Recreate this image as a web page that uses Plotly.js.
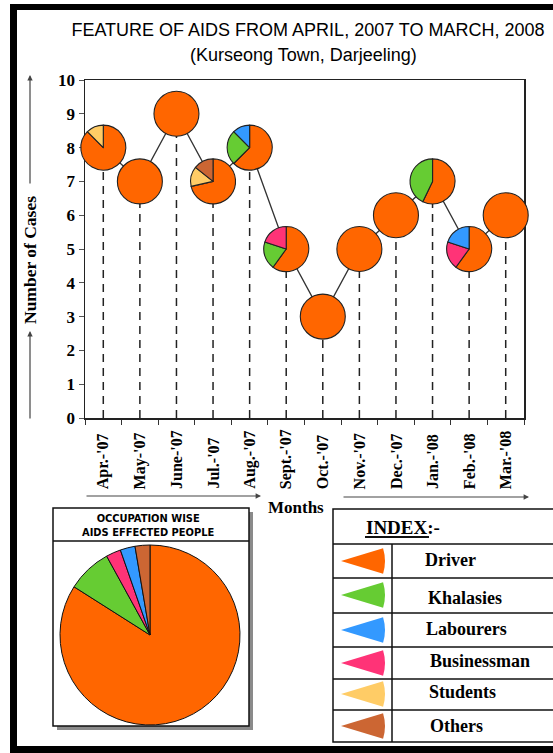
<!DOCTYPE html>
<html>
<head>
<meta charset="utf-8">
<script src="https://cdn.plot.ly/plotly-3.0.1.min.js"></script>
<style>
  html, body { margin: 0; padding: 0; background: #fff; }
  #chart { width: 553px; height: 753px; }
</style>
</head>
<body>
<div id="chart"></div>
<script>
// Monthly AIDS cases in Kurseong Town, April 2007 – March 2008
const months = ["Apr.-'07", "May-'07", "June-'07", "Jul.-'07", "Aug.-'07", "Sept.-'07",
                "Oct.-'07", "Nov.-'07", "Dec.-'07", "Jan.-'08", "Feb.-'08", "Mar.-'08"];
const totalCases = [8, 7, 9, 7, 8, 5, 3, 5, 6, 7, 5, 6];

// Occupation split of each month (slice order, clockwise from 12 o'clock)
const occupations = ['Driver', 'Khalasies', 'Businessman', 'Labourers', 'Students', 'Others'];
const driver      = [7, 7, 9, 5, 5, 3, 3, 5, 6, 4, 3, 6];
const khalasies   = [0, 0, 0, 0, 2, 1, 0, 0, 0, 3, 0, 0];
const businessman = [0, 0, 0, 0, 0, 1, 0, 0, 0, 0, 1, 0];
const labourers   = [0, 0, 0, 0, 1, 0, 0, 0, 0, 0, 1, 0];
const students    = [1, 0, 0, 1, 0, 0, 0, 0, 0, 0, 0, 0];
const others      = [0, 0, 0, 1, 0, 0, 0, 0, 0, 0, 0, 0];

// Occupation-wise summary pie (same slice order)
const overallCases = [63, 6, 2, 2, 0, 2];

const sliceColors = ['#FF6600', '#66CC33', '#FF3377', '#3399FF', '#FFCC66', '#CC6633'];
const indexLabels = ['Driver', 'Khalasies', 'Labourers', 'Businessman', 'Students', 'Others'];

// ---- page geometry (pixels) ----
const W = 553, H = 753;
const box = { left: 85, right: 524, top: 80, bottom: 418 };
const xRange = [-0.5, 11.5], yRange = [0, 10];
const xDomain = [box.left / W, box.right / W];
const yDomain = [1 - box.bottom / H, 1 - box.top / H];
const fx = px => px / W;
const fy = py => 1 - py / H;

// map a (category index, value) pair onto paper coordinates of the main axes
function toPaper(i, v) {
  return {
    x: xDomain[0] + (i - xRange[0]) / (xRange[1] - xRange[0]) * (xDomain[1] - xDomain[0]),
    y: yDomain[0] + (v - yRange[0]) / (yRange[1] - yRange[0]) * (yDomain[1] - yDomain[0])
  };
}

const serifBold = { family: 'Liberation Serif, Times New Roman, serif', weight: 'bold', color: '#000' };

const traces = [];

// dashed drop lines from the axis up to each monthly point
const dropX = [], dropY = [];
months.forEach((m, i) => { dropX.push(m, m, null); dropY.push(0, totalCases[i], null); });
traces.push({
  type: 'scatter', mode: 'lines', x: dropX, y: dropY,
  line: { color: '#222', width: 1.5, dash: '8px,6px' },
  hoverinfo: 'skip', showlegend: false, connectgaps: false
});

// trend line joining the months
traces.push({
  type: 'scatter', mode: 'lines', x: months, y: totalCases,
  line: { color: '#333', width: 1.3 },
  hoverinfo: 'skip', showlegend: false
});

// one small pie per month, centred on its point
const pieR = 22.5;
const series = [driver, khalasies, businessman, labourers, students, others];
months.forEach((m, i) => {
  const c = toPaper(i, totalCases[i]);
  const labels = [], values = [], colors = [];
  series.forEach((s, k) => {
    if (s[i] > 0) { labels.push(occupations[k]); values.push(s[i]); colors.push(sliceColors[k]); }
  });
  traces.push({
    type: 'pie', labels, values, sort: false, direction: 'clockwise',
    marker: { colors, line: { color: '#222', width: 1.1 } },
    textinfo: 'none', hoverinfo: 'none', showlegend: false,
    domain: { x: [c.x - pieR / W, c.x + pieR / W], y: [c.y - pieR / H, c.y + pieR / H] }
  });
});

// summary pie
{
  const labels = [], values = [], colors = [];
  overallCases.forEach((v, k) => {
    if (v > 0) { labels.push(occupations[k]); values.push(v); colors.push(sliceColors[k]); }
  });
  const cx = 150, cy = 635, r = 90;
  traces.push({
    type: 'pie', labels, values, sort: false, direction: 'clockwise',
    marker: { colors, line: { color: '#111', width: 1 } },
    textinfo: 'none', hoverinfo: 'none', showlegend: false,
    domain: { x: [fx(cx - r), fx(cx + r)], y: [fy(cy + r), fy(cy - r)] }
  });
}

// ---- decorations ----
const shapes = [];
const rectPx = (x0, y0, x1, y1, opts) => Object.assign({
  type: 'rect', xref: 'paper', yref: 'paper',
  x0: fx(x0), x1: fx(x1), y0: fy(y1), y1: fy(y0)
}, opts);
const linePx = (x0, y0, x1, y1, opts) => Object.assign({
  type: 'line', xref: 'paper', yref: 'paper',
  x0: fx(x0), x1: fx(x1), y0: fy(y0), y1: fy(y1)
}, opts);

// black page frame
shapes.push(rectPx(10, 4, W, 10, { fillcolor: '#000', line: { width: 0 }, layer: 'above' }));
shapes.push(rectPx(10, 4, 17, H, { fillcolor: '#000', line: { width: 0 }, layer: 'above' }));
shapes.push(rectPx(10, 746, W, H, { fillcolor: '#000', line: { width: 0 }, layer: 'above' }));

// summary box with drop shadow
shapes.push(rectPx(57, 512, 253, 730, { fillcolor: '#8a8a8a', line: { width: 0 }, layer: 'below' }));
shapes.push(rectPx(53, 508, 249, 726, { fillcolor: '#fff', line: { color: '#111', width: 1.5 }, layer: 'below' }));
shapes.push(linePx(53, 541, 249, 541, { line: { color: '#111', width: 1.5 }, layer: 'below' }));

// index table
const tbl = { left: 333, right: 560, top: 509, bottom: 742, divider: 392 };
const rowLines = [544, 578, 613, 647, 679, 710];
shapes.push(rectPx(tbl.left, tbl.top, tbl.right, tbl.bottom, { line: { color: '#111', width: 1.5 }, layer: 'above' }));
rowLines.forEach(y => shapes.push(linePx(tbl.left, y, tbl.right, y, { line: { color: '#111', width: 1.5 }, layer: 'above' })));
shapes.push(linePx(tbl.divider, 544, tbl.divider, tbl.bottom, { line: { color: '#111', width: 1.5 }, layer: 'above' }));
shapes.push(linePx(365, 537, 429, 537, { line: { color: '#111', width: 2 }, layer: 'above' }));

// wedge icons for the index rows
const rowCentres = [561, 595, 630, 663, 694, 726];
function wedgePath(tipX, cy, R, halfDeg) {
  const a = halfDeg * Math.PI / 180;
  const ex = tipX + R * Math.cos(a), dy = R * Math.sin(a);
  const k = 4 / 3 * Math.tan(a / 2) * R;
  const c1x = ex + k * Math.sin(a), c1y = cy - dy + k * Math.cos(a);
  const c2x = c1x, c2y = cy + dy - k * Math.cos(a);
  const P = (x, y) => fx(x).toFixed(5) + ',' + fy(y).toFixed(5);
  return 'M' + P(tipX, cy) + ' L' + P(ex, cy - dy) + ' C' + P(c1x, c1y) + ' ' + P(c2x, c2y) + ' ' + P(ex, cy + dy) + ' Z';
}
indexLabels.forEach((name, r) => {
  const col = sliceColors[occupations.indexOf(name)];
  shapes.push({
    type: 'path', xref: 'paper', yref: 'paper', layer: 'above',
    path: wedgePath(341, rowCentres[r], 44, 17),
    fillcolor: col, line: { width: 0 }
  });
});

// ---- annotations ----
const annotations = [];
const textAt = (px, py, text, font, extra) => Object.assign({
  xref: 'paper', yref: 'paper', x: fx(px), y: fy(py), xanchor: 'center', yanchor: 'middle',
  showarrow: false, text, font
}, extra || {});

annotations.push(textAt(303, 55, '(Kurseong Town, Darjeeling)',
  { family: 'Liberation Sans, Arial, sans-serif', size: 18, color: '#000' }));

// month labels, read upward from a common baseline
months.forEach(m => annotations.push({
  xref: 'x', yref: 'paper', x: m, y: fy(491), yanchor: 'bottom', xanchor: 'center',
  textangle: -90, showarrow: false, text: m,
  font: Object.assign({ size: 16 }, serifBold)
}));

annotations.push(textAt(30, 260, 'Number of Cases', Object.assign({ size: 17.5 }, serifBold), { textangle: -90 }));
annotations.push(textAt(296, 508, 'Months', Object.assign({ size: 17 }, serifBold)));

// axis arrows
const arrow = (hx, hy, ax, ay) => ({
  xref: 'paper', yref: 'paper', x: fx(hx), y: fy(hy), ax, ay, text: '',
  xanchor: 'center', yanchor: 'middle',
  showarrow: true, arrowhead: 2, arrowsize: 0.9, arrowwidth: 1.2, arrowcolor: '#444'
});
annotations.push(arrow(30, 75, 0, 110));
annotations.push(arrow(30, 331, 0, 89));
annotations.push(arrow(261, 496, -176, 0));
annotations.push(arrow(529, 497, -187, 0));

// summary box heading
annotations.push(textAt(148, 525, 'OCCUPATION WISE<br>AIDS EFFECTED PEOPLE',
  { family: 'Liberation Sans Narrow, DejaVu Sans Condensed, Arial Narrow, sans-serif', size: 11, weight: 'bold', color: '#000' }));

// index heading and row names
annotations.push(textAt(364, 527, 'INDEX:-', Object.assign({ size: 19 }, serifBold), { xanchor: 'left' }));
const labelLeft = [423, 426, 424, 428, 427, 428];
const labelMid  = [560, 598, 629, 661, 692, 726];
indexLabels.forEach((name, r) => annotations.push(
  textAt(labelLeft[r], labelMid[r], name, Object.assign({ size: 18 }, serifBold), { xanchor: 'left' })));

const layout = {
  width: W, height: H,
  margin: { l: 0, r: 0, t: 0, b: 0, pad: 0 },
  paper_bgcolor: '#fff', plot_bgcolor: 'rgba(0,0,0,0)',
  showlegend: false,
  title: {
    text: 'FEATURE OF AIDS FROM APRIL, 2007 TO MARCH, 2008',
    x: fx(308), xanchor: 'center', y: fy(30), yanchor: 'middle', xref: 'paper', yref: 'paper',
    font: { family: 'Liberation Sans, Arial, sans-serif', size: 18, color: '#000' }
  },
  xaxis: {
    domain: xDomain, type: 'category', categoryorder: 'array', categoryarray: months,
    range: xRange, showticklabels: false, ticks: 'outside', tickson: 'boundaries',
    ticklen: 5, tickcolor: '#333', tickwidth: 1,
    showgrid: false, zeroline: false,
    showline: true, linecolor: '#222', linewidth: 1.5, mirror: true, fixedrange: true
  },
  yaxis: {
    domain: yDomain, range: yRange, tickvals: [0,1,2,3,4,5,6,7,8,9,10],
    ticks: 'outside', ticklen: 5, tickcolor: '#555', tickwidth: 1,
    tickfont: Object.assign({ size: 17 }, serifBold),
    showgrid: false, zeroline: false,
    showline: true, linecolor: '#222', linewidth: 1.5, mirror: true, fixedrange: true
  },
  shapes, annotations
};

Plotly.newPlot('chart', traces, layout, { displayModeBar: false, staticPlot: true });
</script>
</body>
</html>
